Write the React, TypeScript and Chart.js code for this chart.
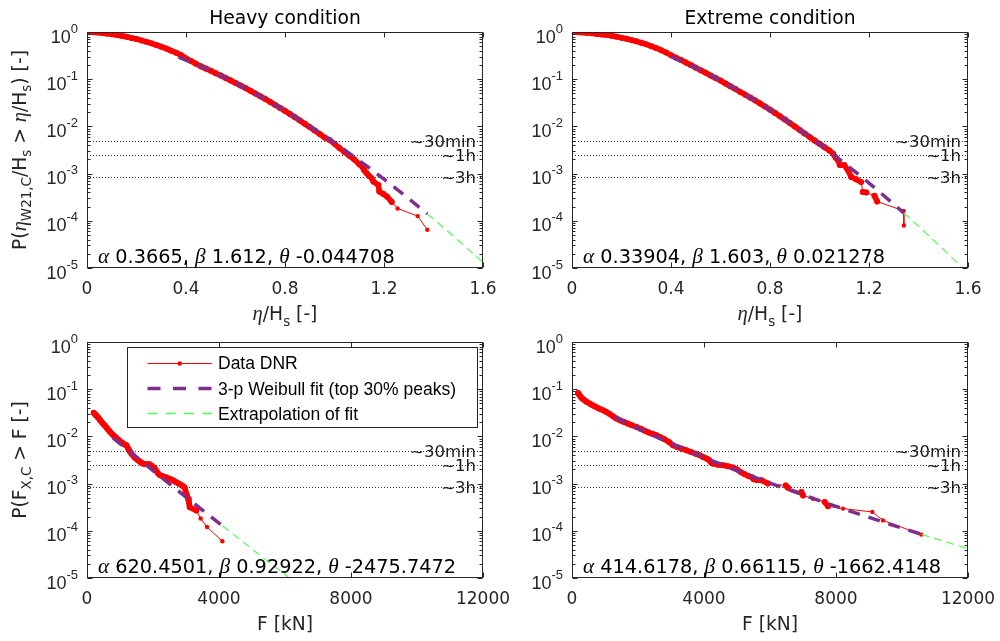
import React, { useEffect, useRef } from 'react';
import { Chart, registerables } from 'chart.js';

Chart.register(...registerables);

// ---------------- DATA ----------------
// Heavy condition, normalised crest (eta/Hs) exceedance: x and log10(P)
const HEAVY_ETA_X = [0.005, 0.02, 0.04, 0.06, 0.08, 0.10, 0.12, 0.14, 0.16, 0.18, 0.20, 0.22, 0.24, 0.26, 0.28, 0.30, 0.32, 0.34, 0.36, 0.38, 0.40, 0.42, 0.44, 0.46, 0.48, 0.50, 0.52, 0.54, 0.56, 0.58, 0.60, 0.62, 0.64, 0.66, 0.68, 0.70, 0.72, 0.74, 0.76, 0.78, 0.80, 0.82, 0.84, 0.86, 0.88, 0.90, 0.92, 0.94, 0.96, 0.98, 1.00, 1.02, 1.04, 1.06, 1.08, 1.10, 1.116, 1.12, 1.13, 1.14, 1.15, 1.157, 1.177, 1.181, 1.197, 1.213, 1.231, 1.255, 1.336, 1.375];
const HEAVY_ETA_LOGP = [0, -0.005, -0.012, -0.022, -0.034, -0.048, -0.064, -0.082, -0.102, -0.125, -0.150, -0.178, -0.208, -0.240, -0.275, -0.312, -0.352, -0.395, -0.44, -0.49, -0.56, -0.615, -0.672, -0.728, -0.775, -0.822, -0.872, -0.922, -0.973, -1.025, -1.078, -1.132, -1.188, -1.245, -1.303, -1.36, -1.42, -1.482, -1.545, -1.608, -1.672, -1.738, -1.805, -1.875, -1.945, -2.015, -2.085, -2.16, -2.235, -2.29, -2.37, -2.46, -2.54, -2.62, -2.70, -2.80, -2.88, -2.93, -2.99, -3.05, -3.10, -3.17, -3.24, -3.38, -3.43, -3.49, -3.60, -3.74, -3.90, -4.19];
const HEAVY_ETA_FIT_X = [0.37, 0.45, 0.5, 0.55, 0.6, 0.65, 0.7, 0.75, 0.8, 0.85, 0.9, 0.95, 1.0, 1.05, 1.1, 1.15, 1.2, 1.25, 1.3, 1.375];
const HEAVY_ETA_FIT_LOGP = [-0.53, -0.704, -0.823, -0.948, -1.079, -1.218, -1.362, -1.512, -1.669, -1.831, -1.998, -2.172, -2.350, -2.534, -2.724, -2.918, -3.118, -3.322, -3.531, -3.853];
const HEAVY_ETA_EXT_X = [1.375, 1.45, 1.525, 1.6];
const HEAVY_ETA_EXT_LOGP = [-3.853, -4.188, -4.531, -4.885];

// Extreme condition, eta/Hs
const EXT_ETA_X = [0.005, 0.02, 0.04, 0.06, 0.08, 0.10, 0.12, 0.14, 0.16, 0.18, 0.20, 0.22, 0.24, 0.26, 0.28, 0.30, 0.32, 0.34, 0.36, 0.38, 0.40, 0.42, 0.44, 0.46, 0.48, 0.50, 0.52, 0.54, 0.56, 0.58, 0.60, 0.62, 0.64, 0.66, 0.68, 0.70, 0.72, 0.74, 0.76, 0.78, 0.80, 0.82, 0.84, 0.86, 0.88, 0.90, 0.92, 0.94, 0.96, 0.98, 1.00, 1.02, 1.04, 1.055, 1.065, 1.075, 1.082, 1.10, 1.115, 1.128, 1.148, 1.168, 1.175, 1.189, 1.222, 1.233, 1.34, 1.341];
const EXT_ETA_LOGP = [0, -0.004, -0.01, -0.018, -0.028, -0.04, -0.052, -0.065, -0.08, -0.098, -0.12, -0.145, -0.17, -0.198, -0.228, -0.262, -0.30, -0.34, -0.385, -0.435, -0.49, -0.545, -0.595, -0.645, -0.70, -0.755, -0.81, -0.865, -0.92, -0.975, -1.03, -1.09, -1.15, -1.21, -1.27, -1.33, -1.39, -1.45, -1.515, -1.58, -1.645, -1.715, -1.785, -1.855, -1.93, -2.0, -2.075, -2.15, -2.225, -2.30, -2.37, -2.44, -2.51, -2.58, -2.66, -2.72, -2.82, -2.82, -2.93, -3.07, -3.12, -3.18, -3.39, -3.40, -3.47, -3.59, -3.79, -4.10];
const EXT_ETA_FIT_X = [0.40, 0.45, 0.5, 0.55, 0.6, 0.65, 0.7, 0.75, 0.8, 0.85, 0.9, 0.95, 1.0, 1.05, 1.1, 1.15, 1.2, 1.25, 1.3, 1.34];
const EXT_ETA_FIT_LOGP = [-0.519, -0.633, -0.755, -0.885, -1.023, -1.169, -1.321, -1.481, -1.647, -1.820, -1.999, -2.184, -2.376, -2.573, -2.777, -2.986, -3.201, -3.421, -3.647, -3.832];
const EXT_ETA_EXT_X = [1.34, 1.4, 1.5, 1.6];
const EXT_ETA_EXT_LOGP = [-3.832, -4.115, -4.604, -5.113];

// Heavy condition, force F [kN]
const HEAVY_F_X = [203, 230, 260, 290, 320, 350, 385, 420, 460, 500, 540, 587, 630, 680, 730, 788, 840, 900, 950, 990, 1050, 1100, 1150, 1194, 1250, 1300, 1345, 1400, 1450, 1500, 1546, 1600, 1650, 1697, 1760, 1830, 1900, 1960, 2010, 2052, 2100, 2150, 2203, 2280, 2350, 2405, 2470, 2540, 2606, 2680, 2758, 2830, 2900, 2961, 2991, 3030, 3061, 3090, 3112, 3313, 3444, 3636, 4101];
const HEAVY_F_LOGP = [-1.50, -1.52, -1.545, -1.565, -1.59, -1.61, -1.645, -1.675, -1.71, -1.74, -1.77, -1.81, -1.85, -1.89, -1.93, -1.97, -2.00, -2.04, -2.07, -2.095, -2.13, -2.15, -2.175, -2.19, -2.26, -2.32, -2.365, -2.41, -2.45, -2.48, -2.505, -2.53, -2.56, -2.577, -2.585, -2.59, -2.59, -2.62, -2.66, -2.68, -2.73, -2.78, -2.82, -2.84, -2.86, -2.87, -2.89, -2.91, -2.93, -2.96, -2.99, -3.02, -3.05, -3.085, -3.18, -3.25, -3.32, -3.40, -3.50, -3.57, -3.74, -3.92, -4.22];
const HEAVY_F_FIT_X = [788, 1000, 1500, 2000, 2500, 3000, 3500, 4101];
const HEAVY_F_FIT_LOGP = [-2.031, -2.154, -2.440, -2.724, -3.006, -3.285, -3.563, -3.895];
const HEAVY_F_EXT_X = [4101, 5000, 6200];
const HEAVY_F_EXT_LOGP = [-3.895, -4.388, -5.039];

// Extreme condition, force F [kN]
const EXT_F_X = [182, 220, 260, 300, 350, 400, 450, 536, 600, 680, 760, 850, 939, 1030, 1130, 1240, 1345, 1450, 1560, 1680, 1800, 1952, 2080, 2200, 2330, 2450, 2558, 2680, 2800, 2940, 3061, 3200, 3330, 3467, 3600, 3750, 3870, 3970, 4080, 4150, 4210, 4273, 4420, 4576, 4720, 4879, 5000, 5120, 5233, 5350, 5467, 5500, 5600, 5739, 5939, 6475, 6545, 6950, 7000, 7300, 7657, 7758, 8212, 9101, 9424, 10586];
const EXT_F_LOGP = [-1.08, -1.12, -1.16, -1.19, -1.22, -1.245, -1.27, -1.305, -1.33, -1.36, -1.39, -1.42, -1.447, -1.48, -1.52, -1.575, -1.623, -1.66, -1.69, -1.725, -1.76, -1.80, -1.84, -1.88, -1.92, -1.95, -1.977, -2.02, -2.06, -2.12, -2.19, -2.23, -2.26, -2.295, -2.33, -2.37, -2.40, -2.436, -2.47, -2.50, -2.55, -2.577, -2.60, -2.61, -2.63, -2.66, -2.70, -2.76, -2.80, -2.84, -2.87, -2.91, -2.925, -2.93, -3.00, -3.04, -3.09, -3.18, -3.25, -3.32, -3.39, -3.48, -3.53, -3.60, -3.78, -4.08];
const EXT_F_FIT_X = [1293, 2000, 3000, 4000, 5000, 6000, 7000, 8000, 9000, 10000, 10586];
const EXT_F_FIT_LOGP = [-1.591, -1.834, -2.151, -2.446, -2.724, -2.988, -3.240, -3.483, -3.717, -3.944, -4.073];
const EXT_F_EXT_X = [10586, 11300, 12000];
const EXT_F_EXT_LOGP = [-4.073, -4.229, -4.378];

// Axes / labels
const ETA_TICKS = [0, 0.4, 0.8, 1.2, 1.6];
const ETA_TICK_LABELS = ['0', '0.4', '0.8', '1.2', '1.6'];
const F_TICKS = [0, 4000, 8000, 12000];
const F_TICK_LABELS = ['0', '4000', '8000', '12000'];
const Y_DECADES = [0, -1, -2, -3, -4, -5];
const RETURN_P = [0.005, 0.0025, 0.000833];
const RETURN_LABELS = ['~30min', '~1h', '~3h'];
const TITLES = ['Heavy condition', 'Extreme condition'];
const LEGEND_LABELS = ['Data DNR', '3-p Weibull fit (top 30% peaks)', 'Extrapolation of fit'];
const PARAMS_HEAVY_ETA = ['0.3665', '1.612', '-0.044708'];
const PARAMS_EXT_ETA = ['0.33904', '1.603', '0.021278'];
const PARAMS_HEAVY_F = ['620.4501', '0.92922', '-2475.7472'];
const PARAMS_EXT_F = ['414.6178', '0.66115', '-1662.4148'];

// ---------------- STYLE ----------------
const RED = '#ff0000';
const PURPLE = '#7e2f8e';
const GREEN = '#55ff55';
const AXIS = '#262626';
const DEJAVU = '"DejaVu Sans", sans-serif';
const HELV = '"Liberation Sans", Arial, sans-serif';
const GREEK = '"Liberation Serif", "DejaVu Serif", serif';

type Seg = { t: string; k?: 'i' | 'b' | 'p' };

const ETA_XLABEL: Seg[] = [{ t: 'η', k: 'i' }, { t: '/H' }, { t: 's', k: 'b' }, { t: ' [-]' }];
const F_XLABEL: Seg[] = [{ t: 'F [kN]' }];
const ETA_YLABEL: Seg[] = [{ t: 'P(' }, { t: 'η', k: 'i' }, { t: 'W21,C', k: 'b' }, { t: '/H' }, { t: 's', k: 'b' }, { t: ' > ' }, { t: 'η', k: 'i' }, { t: '/H' }, { t: 's', k: 'b' }, { t: ') [-]' }];
const F_YLABEL: Seg[] = [{ t: 'P(F' }, { t: 'X,C', k: 'b' }, { t: ' > F [-]' }];

function fontFor(k: any, size: number, fam: string) {
  if (k === 'i') return `italic ${size * 1.1}px ${GREEK}`;
  if (k === 'b' || k === 'p') return `${size * 0.72}px ${fam}`;
  return `${size}px ${fam}`;
}

function drawRich(ctx: CanvasRenderingContext2D, segs: Seg[], x: number, y: number, size: number, fam: string, align: string, color: string) {
  let w = 0;
  for (const s of segs) {
    ctx.font = fontFor(s.k, size, fam);
    w += ctx.measureText(s.t).width;
  }
  let cx = align === 'center' ? x - w / 2 : align === 'right' ? x - w : x;
  ctx.textAlign = 'left';
  ctx.textBaseline = 'alphabetic';
  ctx.fillStyle = color;
  for (const s of segs) {
    ctx.font = fontFor(s.k, size, fam);
    const dy = s.k === 'b' ? size * 0.3 : s.k === 'p' ? -size * 0.45 : 0;
    ctx.fillText(s.t, cx, y + dy);
    cx += ctx.measureText(s.t).width;
  }
}

type PanelCfg = {
  left: number; top: number; w: number; h: number;
  padding: { left: number; right: number; top: number; bottom: number };
  xMax: number; xTicks: number[]; xTickLabels: string[];
  xLabel: Seg[]; yLabel?: Seg[]; title?: string; params: string[];
  dataX: number[]; dataL: number[]; fitX: number[]; fitL: number[]; extX: number[]; extL: number[];
  legend: boolean;
};

const PANELS: PanelCfg[] = [
  {
    left: 0, top: 0, w: 530, h: 340, padding: { left: 87, right: 47, top: 32, bottom: 72 },
    xMax: 1.6, xTicks: ETA_TICKS, xTickLabels: ETA_TICK_LABELS, xLabel: ETA_XLABEL, yLabel: ETA_YLABEL,
    title: TITLES[0], params: PARAMS_HEAVY_ETA,
    dataX: HEAVY_ETA_X, dataL: HEAVY_ETA_LOGP, fitX: HEAVY_ETA_FIT_X, fitL: HEAVY_ETA_FIT_LOGP, extX: HEAVY_ETA_EXT_X, extL: HEAVY_ETA_EXT_LOGP,
    legend: false,
  },
  {
    left: 470, top: 0, w: 530, h: 340, padding: { left: 102, right: 32, top: 32, bottom: 72 },
    xMax: 1.6, xTicks: ETA_TICKS, xTickLabels: ETA_TICK_LABELS, xLabel: ETA_XLABEL,
    title: TITLES[1], params: PARAMS_EXT_ETA,
    dataX: EXT_ETA_X, dataL: EXT_ETA_LOGP, fitX: EXT_ETA_FIT_X, fitL: EXT_ETA_FIT_LOGP, extX: EXT_ETA_EXT_X, extL: EXT_ETA_EXT_LOGP,
    legend: false,
  },
  {
    left: 0, top: 300, w: 530, h: 341, padding: { left: 87, right: 47, top: 42, bottom: 63 },
    xMax: 12000, xTicks: F_TICKS, xTickLabels: F_TICK_LABELS, xLabel: F_XLABEL, yLabel: F_YLABEL,
    params: PARAMS_HEAVY_F,
    dataX: HEAVY_F_X, dataL: HEAVY_F_LOGP, fitX: HEAVY_F_FIT_X, fitL: HEAVY_F_FIT_LOGP, extX: HEAVY_F_EXT_X, extL: HEAVY_F_EXT_LOGP,
    legend: true,
  },
  {
    left: 470, top: 300, w: 530, h: 341, padding: { left: 102, right: 32, top: 42, bottom: 63 },
    xMax: 12000, xTicks: F_TICKS, xTickLabels: F_TICK_LABELS, xLabel: F_XLABEL,
    params: PARAMS_EXT_F,
    dataX: EXT_F_X, dataL: EXT_F_LOGP, fitX: EXT_F_FIT_X, fitL: EXT_F_FIT_LOGP, extX: EXT_F_EXT_X, extL: EXT_F_EXT_LOGP,
    legend: false,
  },
];

function zip(xs: number[], ls: number[]) {
  return xs.map((x, i) => ({ x, y: Math.pow(10, ls[i]) }));
}

// marker radius: larger where points crowd together (dense band), small in the sparse tail
function markerRadius(c: any) {
  const ds = c.dataset && c.dataset.data;
  const i = c.dataIndex;
  const sc = c.chart && c.chart.scales;
  if (!ds || !sc || !sc.x || !sc.y || !ds[i]) return 2.2;
  const px = (p: any) => [sc.x.getPixelForValue(p.x), sc.y.getPixelForValue(p.y)];
  const a = px(ds[i]);
  let dmin = Infinity;
  for (const j of [i - 1, i + 1]) {
    if (ds[j]) {
      const b = px(ds[j]);
      dmin = Math.min(dmin, Math.hypot(a[0] - b[0], a[1] - b[1]));
    }
  }
  return dmin < 8 ? 3 : 2.2;
}

// segments between crowded points merge into a thick band, as the dense markers do
function segWidth(c: any) {
  const d = Math.hypot(c.p1.x - c.p0.x, c.p1.y - c.p0.y);
  return d < 8 ? 5.6 : 1;
}

function makeAxesPlugin(cfg: PanelCfg) {
  return {
    id: 'matlabAxes',
    beforeDatasetsDraw(chart: any) {
      const { ctx, chartArea: a, scales } = chart;
      ctx.save();
      ctx.strokeStyle = '#333333';
      ctx.lineWidth = 1;
      ctx.setLineDash([1, 2]);
      RETURN_P.forEach((p) => {
        const y = Math.round(scales.y.getPixelForValue(p)) + 0.5;
        ctx.beginPath();
        ctx.moveTo(a.left, y);
        ctx.lineTo(a.right, y);
        ctx.stroke();
      });
      ctx.restore();
    },
    afterDatasetsDraw(chart: any) {
      const { ctx, chartArea: a, scales } = chart;
      const L = Math.round(a.left) + 0.5;
      const R = Math.round(a.right) - 0.5;
      const T = Math.round(a.top) + 0.5;
      const B = Math.round(a.bottom) - 0.5;
      ctx.save();
      // return level labels
      ctx.fillStyle = '#1a1a1a';
      ctx.font = `16.5px ${DEJAVU}`;
      ctx.textAlign = 'right';
      ctx.textBaseline = 'alphabetic';
      RETURN_P.forEach((p, i) => {
        const y = scales.y.getPixelForValue(p);
        ctx.fillText(RETURN_LABELS[i], a.right - 7, y + 6);
      });

      // box
      ctx.strokeStyle = AXIS;
      ctx.lineWidth = 1;
      ctx.setLineDash([]);
      ctx.strokeRect(L, T, R - L, B - T);
      // x ticks
      ctx.beginPath();
      cfg.xTicks.forEach((v) => {
        const x = Math.round(scales.x.getPixelForValue(v)) + 0.5;
        ctx.moveTo(x, B); ctx.lineTo(x, B - 5);
        ctx.moveTo(x, T); ctx.lineTo(x, T + 5);
      });
      // y ticks (major + minor)
      Y_DECADES.forEach((e) => {
        const y = Math.round(scales.y.getPixelForValue(Math.pow(10, e))) + 0.5;
        ctx.moveTo(L, y); ctx.lineTo(L + 5, y);
        ctx.moveTo(R, y); ctx.lineTo(R - 5, y);
        if (e < 0) {
          for (let m = 2; m <= 9; m++) {
            const ym = Math.round(scales.y.getPixelForValue(m * Math.pow(10, e))) + 0.5;
            ctx.moveTo(L, ym); ctx.lineTo(L + 3, ym);
            ctx.moveTo(R, ym); ctx.lineTo(R - 3, ym);
          }
        }
      });
      ctx.stroke();

      // x tick labels
      ctx.fillStyle = AXIS;
      ctx.font = `17px ${DEJAVU}`;
      ctx.textAlign = 'center';
      cfg.xTicks.forEach((v, i) => {
        const x = scales.x.getPixelForValue(v);
        ctx.fillText(cfg.xTickLabels[i], x, a.bottom + 26);
      });

      // y tick labels 10^e
      Y_DECADES.forEach((e) => {
        const y = scales.y.getPixelForValue(Math.pow(10, e));
        const sup = String(e);
        ctx.font = `13px ${HELV}`;
        const ws = ctx.measureText(sup).width;
        ctx.font = `18px ${HELV}`;
        const wb = ctx.measureText('10').width;
        const xr = a.left - 9;
        ctx.textAlign = 'left';
        ctx.fillText('10', xr - ws - wb, y + 10.5);
        ctx.font = `13px ${HELV}`;
        ctx.fillText(sup, xr - ws, y + 0.5);
      });

      // x label
      drawRich(ctx, cfg.xLabel, (a.left + a.right) / 2, a.bottom + 52, 18.7, DEJAVU, 'center', AXIS);

      // y label
      if (cfg.yLabel) {
        ctx.save();
        ctx.translate(25.5, (a.top + a.bottom) / 2);
        ctx.rotate(-Math.PI / 2);
        drawRich(ctx, cfg.yLabel, 0, 0, 18.7, DEJAVU, 'center', AXIS);
        ctx.restore();
      }

      // title
      if (cfg.title) {
        ctx.fillStyle = '#000000';
        ctx.font = `18.7px ${DEJAVU}`;
        ctx.textAlign = 'center';
        ctx.fillText(cfg.title, (a.left + a.right) / 2, a.top - 8.5);
      }

      // annotation with Weibull parameters
      const ann: Seg[] = [
        { t: 'α', k: 'i' }, { t: ' ' + cfg.params[0] + ', ' },
        { t: 'β', k: 'i' }, { t: ' ' + cfg.params[1] + ', ' },
        { t: 'θ', k: 'i' }, { t: ' ' + cfg.params[2] },
      ];
      drawRich(ctx, ann, a.left + 11, a.bottom - 5, 19.3, DEJAVU, 'left', '#000000');

      // legend
      if (cfg.legend) {
        const bx = Math.round(a.left + 40) + 0.5;
        const by = Math.round(a.top + 5) + 0.5;
        const bw = Math.round(a.right - 6 - (a.left + 40));
        const bh = 80;
        ctx.fillStyle = '#ffffff';
        ctx.fillRect(bx, by, bw, bh);
        ctx.strokeStyle = AXIS;
        ctx.lineWidth = 1;
        ctx.strokeRect(bx, by, bw, bh);
        const rows = [a.top + 21, a.top + 46.5, a.top + 71.5];
        const x1 = a.left + 60.5;
        const x2 = a.left + 125;
        // data
        ctx.strokeStyle = RED; ctx.lineWidth = 1; ctx.setLineDash([]);
        ctx.beginPath(); ctx.moveTo(x1, Math.round(rows[0]) + 0.5); ctx.lineTo(x2, Math.round(rows[0]) + 0.5); ctx.stroke();
        ctx.fillStyle = RED;
        ctx.beginPath(); ctx.arc((x1 + x2) / 2, Math.round(rows[0]) + 0.5, 2.3, 0, Math.PI * 2); ctx.fill();
        // fit
        ctx.strokeStyle = PURPLE; ctx.lineWidth = 3.5; ctx.setLineDash([13, 12.5]);
        ctx.beginPath(); ctx.moveTo(x1, rows[1]); ctx.lineTo(x2, rows[1]); ctx.stroke();
        // extrapolation
        ctx.strokeStyle = GREEN; ctx.lineWidth = 1.3; ctx.setLineDash([10, 8.2]);
        ctx.beginPath(); ctx.moveTo(x1, rows[2]); ctx.lineTo(x2, rows[2]); ctx.stroke();
        ctx.setLineDash([]);
        ctx.fillStyle = '#000000';
        ctx.font = `17.5px ${HELV}`;
        ctx.textAlign = 'left';
        LEGEND_LABELS.forEach((lab, i) => ctx.fillText(lab, a.left + 131, rows[i] + 6));
      }
      ctx.restore();
    },
  };
}

function Panel({ cfg }: { cfg: PanelCfg }) {
  const ref = useRef<HTMLCanvasElement | null>(null);
  useEffect(() => {
    if (!ref.current) return;
    const chart = new Chart(ref.current, {
      type: 'scatter',
      data: {
        datasets: [
          {
            label: LEGEND_LABELS[1], data: zip(cfg.fitX, cfg.fitL), showLine: true,
            borderColor: PURPLE, borderWidth: 3.5, borderDash: [12, 9], pointRadius: 0, order: 0, clip: 0,
          } as any,
          {
            label: LEGEND_LABELS[2], data: zip(cfg.extX, cfg.extL), showLine: true,
            borderColor: GREEN, borderWidth: 1.2, borderDash: [8, 5], pointRadius: 0, order: 1, clip: 0,
          } as any,
          {
            label: LEGEND_LABELS[0], data: zip(cfg.dataX, cfg.dataL), showLine: true,
            borderColor: RED, borderWidth: 1, borderCapStyle: 'round', borderJoinStyle: 'round',
            segment: { borderWidth: segWidth },
            pointRadius: markerRadius, pointBackgroundColor: RED, pointBorderWidth: 0,
            pointHoverRadius: 0, order: 2, clip: 0,
          } as any,
        ],
      },
      options: {
        responsive: false,
        animation: false,
        devicePixelRatio: 1,
        events: [],
        layout: { padding: cfg.padding },
        scales: {
          x: { type: 'linear', min: 0, max: cfg.xMax, display: false },
          y: { type: 'logarithmic', min: 1e-5, max: 1, display: false },
        },
        plugins: { legend: { display: false }, tooltip: { enabled: false }, title: { display: false } },
      } as any,
      plugins: [makeAxesPlugin(cfg)],
    });
    return () => chart.destroy();
  }, [cfg]);
  return (
    <canvas
      ref={ref}
      width={cfg.w}
      height={cfg.h}
      style={{ position: 'absolute', left: cfg.left, top: cfg.top, width: cfg.w, height: cfg.h }}
    />
  );
}

export default function App() {
  return (
    <div style={{ position: 'absolute', left: 0, top: 0, width: 1000, height: 641, background: '#ffffff', overflow: 'hidden' }}>
      {PANELS.map((p, i) => (
        <Panel key={i} cfg={p} />
      ))}
    </div>
  );
}
